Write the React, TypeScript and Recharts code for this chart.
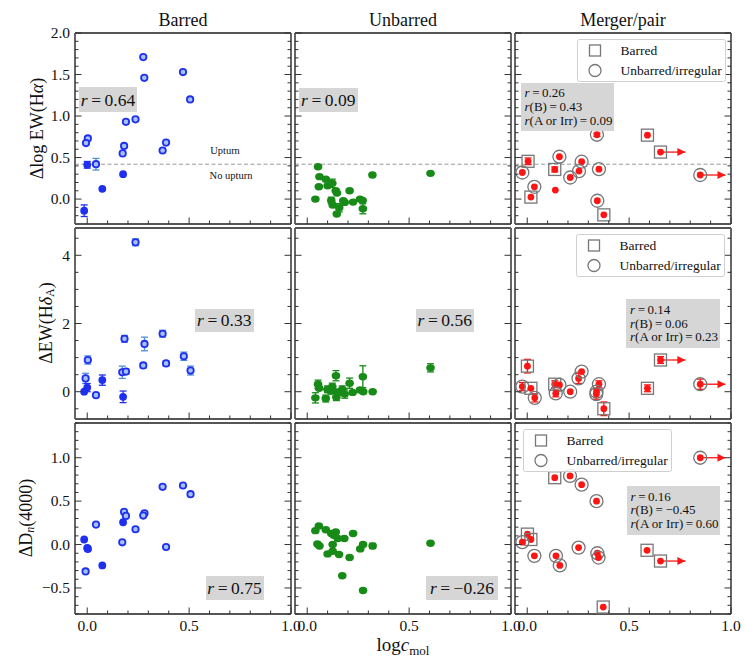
import React from "react";
import { ScatterChart, Scatter, XAxis, YAxis, ErrorBar, ReferenceLine } from "recharts";

const FONT = '"Liberation Serif", "Times New Roman", serif';

// axis ticks
const xMajor = [0, 0.5, 1.0];
const xMajorLabels = ["0.0", "0.5", "1.0"];
const haMajor = [0, 0.5, 1.0, 1.5, 2.0];
const haMajorLabels = ["0.0", "0.5", "1.0", "1.5", "2.0"];
const hdMajor = [0, 2, 4];
const hdMajorLabels = ["0", "2", "4"];
const dnMajor = [-0.5, 0, 0.5, 1.0];
const dnMajorLabels = ["\u22120.5", "0.0", "0.5", "1.0"];

const upturnLimit = 0.42;

// [logc_mol, value, error]
const barredHaOpen = [
  [0.275, 1.71], [0.28, 1.46], [0.47, 1.53], [0.505, 1.2], [0.237, 0.96], [0.19, 0.93],
  [0.003, 0.73], [-0.006, 0.675], [0.181, 0.64], [0.174, 0.55], [0.387, 0.68], [0.37, 0.585],
  [0.043, 0.42, 0.07],
];
const barredHaFilled = [[0.0, 0.413, 0.04], [0.176, 0.3], [0.074, 0.124], [-0.015, -0.14, 0.07]];

const barredHdOpen = [
  [0.237, 4.38, 0.1], [0.183, 1.55, 0.1], [0.37, 1.7, 0.1], [0.281, 1.4, 0.2], [0.003, 0.93, 0.12],
  [0.474, 1.04, 0.12], [0.275, 0.77, 0.07], [0.387, 0.83, 0.07], [0.507, 0.62, 0.13],
  [0.172, 0.57, 0.18], [0.19, 0.59, 0.08], [-0.008, 0.39, 0.15], [0.043, -0.1],
];
const barredHdFilled = [[0.074, 0.34, 0.15], [0.0, 0.12, 0.12], [-0.015, 0.0], [0.176, -0.15, 0.17]];

const barredDnOpen = [
  [0.47, 0.68], [0.37, 0.665], [0.507, 0.58], [0.181, 0.376], [0.19, 0.33], [0.281, 0.36],
  [0.275, 0.334], [0.043, 0.23], [0.237, 0.176], [0.172, 0.026], [0.387, -0.028],
  [-0.008, -0.31], [0.003, -0.05],
];
const barredDnFilled = [[0.176, 0.257], [-0.015, 0.058], [0.0, -0.039], [0.074, -0.24]];

const unbarredHa = [
  [0.053, 0.39], [0.06, 0.27], [0.091, 0.24], [0.123, 0.19, 0.05], [0.1, 0.16], [0.057, 0.148],
  [0.14, 0.1], [0.146, 0.072], [0.208, 0.1], [0.32, 0.29], [0.605, 0.31], [0.04, 0.0],
  [0.118, -0.017, 0.04], [0.125, -0.072], [0.177, -0.02], [0.184, -0.04], [0.225, -0.036],
  [0.259, 0.0], [0.272, -0.017], [0.157, -0.105, 0.05], [0.273, -0.117, 0.06], [0.145, -0.18],
];
const unbarredHd = [
  [0.605, 0.7, 0.12], [0.141, 0.47, 0.15], [0.273, 0.44, 0.32], [0.208, 0.25, 0.15],
  [0.053, 0.22, 0.12], [0.058, 0.1], [0.099, 0.07, 0.1], [0.123, 0.15, 0.1], [0.115, 0.01],
  [0.146, -0.01], [0.172, 0.07, 0.1], [0.184, -0.07, 0.12], [0.223, -0.02], [0.259, 0.05],
  [0.275, 0.0], [0.321, 0.0], [0.04, -0.18, 0.15], [0.091, -0.2, 0.1], [0.143, -0.16, 0.1],
  [0.162, -0.02],
];
const unbarredDn = [
  [0.605, 0.015], [0.057, 0.215], [0.04, 0.16], [0.091, 0.17], [0.118, 0.127], [0.14, 0.145],
  [0.13, 0.107], [0.15, 0.07], [0.182, 0.07], [0.225, 0.127], [0.05, 0.007], [0.06, -0.016],
  [0.125, 0.0], [0.1, -0.108], [0.125, -0.077], [0.156, -0.115], [0.208, -0.15], [0.26, -0.05],
  [0.274, 0.0], [0.321, -0.016, 0.03], [0.172, -0.36], [0.274, -0.53],
];

// [logc_mol, value, error, morphology: B barred, U unbarred/irregular, - none]
const mergerHa = [
  [0.342, 0.775, 0.02, "U"], [0.59, 0.77, 0, "B"], [0.654, 0.566, 0, "B"], [0.849, 0.29, 0, "U"],
  [0.004, 0.455, 0.04, "B"], [-0.024, 0.32, 0, "U"], [0.158, 0.51, 0, "U"], [0.135, 0.357, 0.03, "B"],
  [0.267, 0.45, 0, "U"], [0.254, 0.337, 0, "U"], [0.211, 0.26, 0, "U"], [0.352, 0.36, 0, "U"],
  [0.035, 0.148, 0, "U"], [0.018, 0.024, 0, "B"], [0.138, 0.108, 0, "-"], [0.344, -0.02, 0, "U"],
  [0.376, -0.19, 0, "B"],
];
const mergerHd = [
  [0.654, 0.93, 0.1, "B"], [0.849, 0.22, 0.15, "U"], [0.001, 0.75, 0.2, "B"], [-0.024, 0.15, 0.12, "U"],
  [0.018, 0.1, 0, "B"], [0.037, -0.18, 0.12, "U"], [0.135, 0.22, 0.1, "B"], [0.158, 0.2, 0, "U"],
  [0.14, -0.05, 0.1, "U"], [0.211, 0.0, 0, "U"], [0.252, 0.39, 0.15, "U"], [0.267, 0.59, 0, "U"],
  [0.352, 0.22, 0.1, "U"], [0.34, 0.0, 0, "U"], [0.339, -0.07, 0.15, "U"], [0.376, -0.5, 0.2, "B"],
  [0.59, 0.1, 0.1, "B"],
];
const mergerDn = [
  [0.849, 1.0, 0, "U"], [0.135, 0.77, 0, "B"], [0.21, 0.79, 0, "U"], [0.267, 0.69, 0, "U"],
  [0.34, 0.5, 0, "U"], [0.001, 0.12, 0, "B"], [0.018, 0.058, 0, "B"], [-0.024, 0.027, 0, "U"],
  [0.035, -0.13, 0, "U"], [0.141, -0.13, 0, "U"], [0.16, -0.24, 0, "U"], [0.252, -0.035, 0, "U"],
  [0.344, -0.1, 0, "U"], [0.35, -0.15, 0, "U"], [0.588, -0.066, 0, "B"], [0.654, -0.19, 0, "B"],
  [0.373, -0.72, 0, "B"],
];

// lower limits in logc_mol: [x, y, arrow tip x]
const mergerHaLimits = [[0.654, 0.566, 0.776], [0.849, 0.29, 0.973]];
const mergerHdLimits = [[0.654, 0.93, 0.776], [0.849, 0.22, 0.973]];
const mergerDnLimits = [[0.849, 1.0, 0.973], [0.654, -0.19, 0.776]];

const rBarred = ["0.64", "0.33", "0.75"];
const rUnbarred = ["0.09", "0.56", "\u22120.26"];
const rMerger = [
  ["0.26", "0.43", "0.09"],
  ["0.14", "0.06", "0.23"],
  ["0.16", "\u22120.45", "0.60"],
];

const pts = (rows: any[]) => rows.map((r) => ({ x: r[0], y: r[1], e: r[2] || undefined, k: r[3] }));

const range = (a: number, b: number, s: number) => {
  const out: number[] = [];
  for (let v = a; v <= b + 1e-9; v += s) out.push(+v.toFixed(3));
  return out;
};

const rowCfg = [
  { domain: [-0.3, 2.0], ticks: range(-0.2, 2.0, 0.1), majors: haMajor, labels: haMajorLabels },
  { domain: [-0.8, 4.8], ticks: range(-0.5, 4.5, 0.5), majors: hdMajor, labels: hdMajorLabels },
  { domain: [-0.8, 1.4], ticks: range(-0.8, 1.4, 0.1), majors: dnMajor, labels: dnMajorLabels },
];
const xTicks = range(0, 1, 0.1);

const PAD = 45;
const PW = 216;
const PH = 191;
const colLeft = [75, 295, 515];
const rowTop = [33, 227.5, 423];
const FRAME = "#555";

function makeTick(side: string, majors: number[], labels: string[] | null) {
  return (p: any) => {
    const v = Number(p.payload.value);
    const mi = majors.findIndex((m) => Math.abs(m - v) < 1e-6);
    const len = mi >= 0 ? 6.5 : 3.5;
    const { x, y } = p;
    let l = [x, y, x, y - len];
    if (side === "top") l = [x, y, x, y + len];
    if (side === "left") l = [x, y, x + len, y];
    if (side === "right") l = [x, y, x - len, y];
    const lab = labels && mi >= 0 ? labels[mi] : null;
    return (
      <g>
        <line x1={l[0]} y1={l[1]} x2={l[2]} y2={l[3]} stroke="#333" strokeWidth={1} />
        {lab && side === "bottom" && (
          <text x={x} y={y + 17} textAnchor="middle" fontSize={15.5} fontFamily={FONT} fill="#111">
            {lab}
          </text>
        )}
        {lab && side === "left" && (
          <text x={x - 5} y={y + 5.3} textAnchor="end" fontSize={15.5} fontFamily={FONT} fill="#111">
            {lab}
          </text>
        )}
      </g>
    );
  };
}

const blueOpen = (p: any) => (
  <circle cx={p.cx} cy={p.cy} r={3.2} fill="#a4c2f4" stroke="#1f2ff0" strokeWidth={1.8} />
);
const blueFilled = (p: any) => <circle cx={p.cx} cy={p.cy} r={3.9} fill="#1f2ff0" />;
const greenDot = (p: any) => <ellipse cx={p.cx} cy={p.cy} rx={4.3} ry={3.7} fill="#178a17" />;
const mergerShape = (p: any) => {
  const { cx, cy, payload } = p;
  return (
    <g>
      {payload.k === "B" && (
        <rect x={cx - 6} y={cy - 6} width={12} height={12} fill="none" stroke="#777" strokeWidth={1.3} />
      )}
      {payload.k === "U" && <circle cx={cx} cy={cy} r={6.5} fill="none" stroke="#777" strokeWidth={1.3} />}
      <circle cx={cx} cy={cy} r={3.4} fill="#ff1414" />
    </g>
  );
};
const arrowHead = (p: any) =>
  p.payload.head ? (
    <path d={`M${p.cx - 8},${p.cy - 4}L${p.cx},${p.cy}L${p.cx - 8},${p.cy + 4}Z`} fill="#ff1414" />
  ) : (
    <g />
  );

function Panel({ col, row, children }: { col: number; row: number; children: React.ReactNode }) {
  const yc = rowCfg[row];
  const axisLine = { stroke: FRAME, strokeWidth: 1.8 };
  const m = PAD - 1; // axes take 1px each
  return (
    <div style={{ position: "absolute", left: colLeft[col] - PAD, top: rowTop[row] - PAD }}>
      <ScatterChart width={PW + 2 * PAD} height={PH + 2 * PAD} margin={{ top: m, right: m, bottom: m, left: m }}>
        <XAxis
          xAxisId="b"
          type="number"
          dataKey="x"
          domain={[-0.06, 1.0]}
          allowDataOverflow
          ticks={xTicks}
          interval={0}
          height={1}
          tickSize={0}
          tickMargin={0}
          tickLine={false}
          axisLine={axisLine}
          tick={makeTick("bottom", xMajor, row === 2 ? xMajorLabels : null)}
        />
        <XAxis
          xAxisId="t"
          orientation="top"
          type="number"
          domain={[-0.06, 1.0]}
          allowDataOverflow
          ticks={xTicks}
          interval={0}
          height={1}
          tickSize={0}
          tickMargin={0}
          tickLine={false}
          axisLine={axisLine}
          tick={makeTick("top", xMajor, null)}
        />
        <YAxis
          yAxisId="l"
          type="number"
          dataKey="y"
          domain={yc.domain}
          allowDataOverflow
          ticks={yc.ticks}
          interval={0}
          width={1}
          tickSize={0}
          tickMargin={0}
          tickLine={false}
          axisLine={axisLine}
          tick={makeTick("left", yc.majors, col === 0 ? yc.labels : null)}
        />
        <YAxis
          yAxisId="r"
          orientation="right"
          type="number"
          domain={yc.domain}
          allowDataOverflow
          ticks={yc.ticks}
          interval={0}
          width={1}
          tickSize={0}
          tickMargin={0}
          tickLine={false}
          axisLine={axisLine}
          tick={makeTick("right", yc.majors, null)}
        />
        {row === 0 && (
          <ReferenceLine
            xAxisId="b"
            yAxisId="l"
            y={upturnLimit}
            stroke="#9a9a9a"
            strokeWidth={1}
            strokeDasharray="4 2.5"
          />
        )}
        {children}
      </ScatterChart>
    </div>
  );
}

function renderBarred(open: any[], filled: any[]) {
  return [
    <Scatter key="o" xAxisId="b" yAxisId="l" data={pts(open)} shape={blueOpen} isAnimationActive={false}>
      <ErrorBar dataKey="e" direction="y" width={3.5} stroke="#4f8fdc" strokeWidth={1.3} />
    </Scatter>,
    <Scatter key="f" xAxisId="b" yAxisId="l" data={pts(filled)} shape={blueFilled} isAnimationActive={false}>
      <ErrorBar dataKey="e" direction="y" width={3.5} stroke="#1f2ff0" strokeWidth={1.3} />
    </Scatter>,
  ];
}

function renderUnbarred(data: any[]) {
  return (
    <Scatter xAxisId="b" yAxisId="l" data={pts(data)} shape={greenDot} isAnimationActive={false}>
      <ErrorBar dataKey="e" direction="y" width={3.5} stroke="#178a17" strokeWidth={1.3} />
    </Scatter>
  );
}

function renderMerger(data: any[], limits: number[][]) {
  return [
    ...limits.map((a, i) => (
      <Scatter
        key={"a" + i}
        xAxisId="b"
        yAxisId="l"
        data={[
          { x: a[0], y: a[1] },
          { x: a[2], y: a[1], head: true },
        ]}
        line={{ stroke: "#ff1414", strokeWidth: 1.3 }}
        shape={arrowHead}
        isAnimationActive={false}
      />
    )),
    <Scatter key="m" xAxisId="b" yAxisId="l" data={pts(data)} shape={mergerShape} isAnimationActive={false}>
      <ErrorBar dataKey="e" direction="y" width={3.5} stroke="#ff1414" strokeWidth={1.3} />
    </Scatter>,
  ];
}

const R = () => <i>r</i>;
const EQ = "\u2009=\u2009";

function RBox({ x, y, w, h, children, left }: any) {
  return (
    <div
      style={{
        position: "absolute",
        left: x,
        top: y,
        width: w,
        height: h,
        background: "#d6d6d6",
        fontFamily: FONT,
        fontSize: left ? 13 : 17.5,
        lineHeight: left ? "13.8px" : "20px",
        color: "#111",
        display: "flex",
        flexDirection: "column",
        justifyContent: "center",
        alignItems: left ? "flex-start" : "center",
        paddingLeft: left ? 4 : 0,
        boxSizing: "border-box",
        whiteSpace: "nowrap",
      }}
    >
      {children}
    </div>
  );
}

function MergerBox({ x, y, w, h, vals }: any) {
  return (
    <RBox x={x} y={y} w={w} h={h} left>
      <div>
        <R />{EQ}{vals[0]}
      </div>
      <div>
        <R />(B){EQ}{vals[1]}
      </div>
      <div>
        <R />(A or Irr){EQ}{vals[2]}
      </div>
    </RBox>
  );
}

function MergerLegend({ x, y }: { x: number; y: number }) {
  return (
    <svg style={{ position: "absolute", left: x, top: y }} width={150} height={44}>
      <rect x={0.5} y={0.5} width={148} height={42} rx={2} fill="#fff" fillOpacity={0.85} stroke="#cfcfcf" />
      <rect x={12.5} y={6} width={11} height={11} fill="none" stroke="#777" strokeWidth={1.3} />
      <text x={43.5} y={16} fontSize={13.5} fontFamily={FONT} fill="#111">
        Barred
      </text>
      <circle cx={18} cy={31.5} r={6} fill="none" stroke="#777" strokeWidth={1.3} />
      <text x={43.5} y={36} fontSize={13.5} fontFamily={FONT} fill="#111">
        Unbarred/irregular
      </text>
    </svg>
  );
}

export default function App() {
  return (
    <div style={{ position: "absolute", left: 0, top: 0, width: 747, height: 664, background: "#fff" }}>
      <Panel col={0} row={0}>{renderBarred(barredHaOpen, barredHaFilled)}</Panel>
      <Panel col={1} row={0}>{renderUnbarred(unbarredHa)}</Panel>
      <Panel col={2} row={0}>{renderMerger(mergerHa, mergerHaLimits)}</Panel>
      <Panel col={0} row={1}>{renderBarred(barredHdOpen, barredHdFilled)}</Panel>
      <Panel col={1} row={1}>{renderUnbarred(unbarredHd)}</Panel>
      <Panel col={2} row={1}>{renderMerger(mergerHd, mergerHdLimits)}</Panel>
      <Panel col={0} row={2}>{renderBarred(barredDnOpen, barredDnFilled)}</Panel>
      <Panel col={1} row={2}>{renderUnbarred(unbarredDn)}</Panel>
      <Panel col={2} row={2}>{renderMerger(mergerDn, mergerDnLimits)}</Panel>

      <svg
        style={{ position: "absolute", left: 0, top: 0, pointerEvents: "none" }}
        width={747}
        height={664}
        fontFamily={FONT}
        fill="#111"
      >
        <text x={183} y={26} textAnchor="middle" fontSize={18}>Barred</text>
        <text x={403} y={26} textAnchor="middle" fontSize={18}>Unbarred</text>
        <text x={623} y={26} textAnchor="middle" fontSize={18}>Merger/pair</text>

        <text transform="translate(37,128.5) rotate(-90)" textAnchor="middle" dominantBaseline="central" fontSize={18}>
          Δlog EW(H<tspan fontStyle="italic">α</tspan>)
        </text>
        <text transform="translate(46,323) rotate(-90)" textAnchor="middle" dominantBaseline="central" fontSize={18}>
          ΔEW(H<tspan fontStyle="italic">δ</tspan>
          <tspan fontSize={12} dy={4}>A</tspan>
          <tspan dy={-4}>)</tspan>
        </text>
        <text transform="translate(26,518) rotate(-90)" textAnchor="middle" dominantBaseline="central" fontSize={18}>
          ΔD<tspan fontSize={12} fontStyle="italic" dy={4}>n</tspan>
          <tspan dy={-4}>(4000)</tspan>
        </text>

        <text x={403} y={651} textAnchor="middle" fontSize={19}>
          log<tspan fontStyle="italic">c</tspan>
          <tspan fontSize={13} dy={4}>mol</tspan>
        </text>

        <text x={225} y={153.5} textAnchor="middle" fontSize={10.5}>Upturn</text>
        <text x={231} y={178.5} textAnchor="middle" fontSize={10.5}>No upturn</text>
      </svg>

      <RBox x={79} y={87} w={58} h={25}>
        <span><R />{EQ}{rBarred[0]}</span>
      </RBox>
      <RBox x={299} y={88} w={58.5} h={24}>
        <span><R />{EQ}{rUnbarred[0]}</span>
      </RBox>
      <RBox x={195} y={308.5} w={58.5} h={23.5}>
        <span><R />{EQ}{rBarred[1]}</span>
      </RBox>
      <RBox x={416} y={308.5} w={57.5} h={23.5}>
        <span><R />{EQ}{rUnbarred[1]}</span>
      </RBox>
      <RBox x={205.5} y={576} w={58} h={24}>
        <span><R />{EQ}{rBarred[2]}</span>
      </RBox>
      <RBox x={426} y={576} w={72} h={24}>
        <span><R />{EQ}{rUnbarred[2]}</span>
      </RBox>

      <MergerBox x={520.5} y={82.5} w={93.5} h={48.5} vals={rMerger[0]} />
      <MergerBox x={626} y={299} w={94} h={49} vals={rMerger[1]} />
      <MergerBox x={626.5} y={485.5} w={93} h={49.5} vals={rMerger[2]} />

      <MergerLegend x={576.5} y={39} />
      <MergerLegend x={576} y={234} />
      <MergerLegend x={522.5} y={429} />
    </div>
  );
}
